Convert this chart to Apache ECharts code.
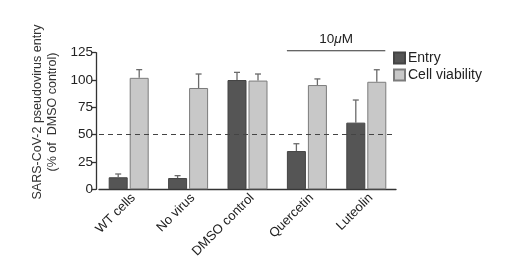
<!DOCTYPE html>
<html>
<head>
<meta charset="utf-8">
<script src="https://cdn.jsdelivr.net/npm/echarts@6/dist/echarts.min.js"></script>
<style>
  html, body { margin: 0; padding: 0; background: #fff; }
  #chart { width: 517px; height: 270px; }
</style>
</head>
<body>
<div id="chart"></div>
<script>
const categories = ['WT cells', 'No virus', 'DMSO control', 'Quercetin', 'Luteolin']
const entry = [11, 10.3, 100, 35, 61]
const entryErr = [14, 12.5, 107, 41.7, 81.7]
const viability = [102, 92.7, 99.5, 95.4, 98.4]
const viabilityErr = [109.5, 105.5, 105.5, 101, 109.4]
const yTicks = [0, 25, 50, 75, 100, 125]
const threshold = 50
const doseLabel = '10{i|μ}M'
const doseGroups = ['Quercetin', 'Luteolin']

const BAR_W = 19
const GAP = 2
const font = '"Liberation Sans", Arial, sans-serif'

// error bars: one up-going whisker with a cap, drawn over each bar
function errorSeries (vals, tops, side) {
  return {
    type: 'custom',
    z: 3,
    silent: true,
    data: vals.map((v, i) => [i, v, tops[i]]),
    renderItem: (params, api) => {
      const off = side * (BAR_W + GAP) / 2
      const base = api.coord([api.value(0), api.value(1)])
      const top = api.coord([api.value(0), api.value(2)])
      const x = base[0] + off
      const style = { stroke: '#6a6a6a', lineWidth: 1.3 }
      return {
        type: 'group',
        children: [
          { type: 'line', shape: { x1: x, y1: base[1], x2: x, y2: top[1] }, style },
          { type: 'line', shape: { x1: x - 3, y1: top[1], x2: x + 3, y2: top[1] }, style }
        ]
      }
    }
  }
}

const option = {
  animation: false,
  textStyle: { fontFamily: font },
  grid: { left: 99, right: 121, top: 52.7, bottom: 80.7 },
  legend: {
    data: ['Entry', 'Cell viability'],
    orient: 'vertical',
    left: 388,
    top: 46,
    icon: 'rect',
    itemWidth: 11,
    itemHeight: 11,
    itemGap: 3,
    textStyle: { fontSize: 14, color: '#222', fontFamily: font, padding: [0, 0, 0, -2] }
  },
  xAxis: {
    type: 'category',
    data: categories,
    axisLine: { lineStyle: { color: '#333', width: 1.3 } },
    axisTick: { show: false },
    axisLabel: { rotate: 45, interval: 0, fontSize: 13, color: '#222', margin: 2, verticalAlign: 'top', fontFamily: font }
  },
  yAxis: {
    type: 'value',
    min: yTicks[0],
    max: yTicks[yTicks.length - 1],
    interval: 25,
    offset: 3,
    name: 'SARS-CoV-2 pseudovirus entry\n(% of  DMSO control)',
    nameLocation: 'middle',
    nameGap: 30,
    nameTextStyle: { fontSize: 12.5, color: '#333', lineHeight: 15, fontFamily: font, padding: [0, 0, 0, 18] },
    splitLine: { show: false },
    axisLine: { show: true, lineStyle: { color: '#333', width: 1.3 } },
    axisTick: { show: true, length: 4, lineStyle: { color: '#333', width: 1.3 } },
    axisLabel: { fontSize: 13.5, color: '#222', margin: 3, fontFamily: font }
  },
  series: [
    {
      type: 'line',
      data: [],
      z: 1,
      silent: true,
      markLine: {
        silent: true,
        symbol: 'none',
        label: { show: false },
        lineStyle: { color: '#444', type: [5, 4], width: 1.2 },
        data: [{ yAxis: threshold }]
      }
    },
    {
      name: 'Entry',
      type: 'bar',
      data: entry,
      barWidth: BAR_W,
      barGap: (GAP / BAR_W * 100) + '%',
      z: 2,
      itemStyle: { color: '#555555', borderColor: '#444', borderWidth: 1 }
    },
    {
      name: 'Cell viability',
      type: 'bar',
      data: viability,
      barWidth: BAR_W,
      z: 2,
      itemStyle: { color: '#c8c8c8', borderColor: '#7c7c7c', borderWidth: 1 }
    },
    errorSeries(entry, entryErr, -1),
    errorSeries(viability, viabilityErr, 1)
  ]
}

const chart = echarts.init(document.getElementById('chart'), null, { renderer: 'canvas' })
chart.setOption(option)

// "10 µM" bracket over the treated groups
const left = chart.convertToPixel({ xAxisIndex: 0 }, doseGroups[0]) - BAR_W - GAP / 2
const right = chart.convertToPixel({ xAxisIndex: 0 }, doseGroups[1]) + BAR_W
const yLine = chart.convertToPixel({ yAxisIndex: 0 }, 126.8)
chart.setOption({
  graphic: [
    { type: 'line', shape: { x1: left, y1: yLine, x2: right, y2: yLine }, style: { stroke: '#333', lineWidth: 1.2 } },
    {
      type: 'text',
      x: (left + right) / 2,
      y: yLine - 4,
      style: {
        text: doseLabel,
        align: 'center',
        verticalAlign: 'bottom',
        fontSize: 13.5,
        fontFamily: font,
        fill: '#222',
        rich: { i: { fontStyle: 'italic', fontSize: 13.5, fontFamily: font } }
      }
    }
  ]
})
</script>
</body>
</html>
